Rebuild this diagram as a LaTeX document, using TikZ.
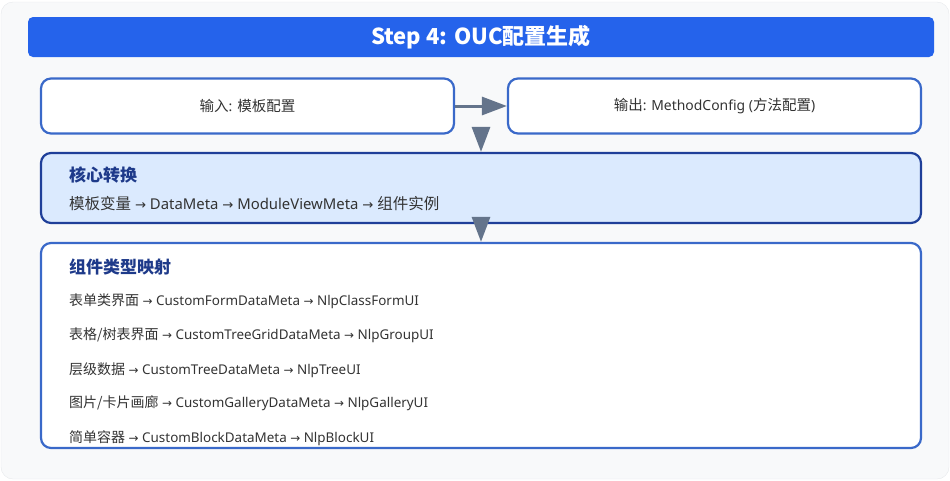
\documentclass[tikz,border=0pt]{standalone}
\usepackage{fontspec}
\setmainfont{Noto Sans}[Scale=0.96]
\newfontfamily\zh{Noto Sans CJK SC}
\newfontfamily\symfont{DejaVu Sans}[Scale=0.85]
\usetikzlibrary{arrows.meta}

\definecolor{panelbg}{HTML}{F8F9FA}
\definecolor{panelline}{HTML}{E6E8EB}
\definecolor{titleblue}{HTML}{2563EB}
\definecolor{boxline}{HTML}{3A69C9}
\definecolor{coreline}{HTML}{1F3F99}
\definecolor{corefill}{HTML}{DBEAFE}
\definecolor{headtext}{HTML}{1E3A8A}
\definecolor{bodytext}{HTML}{333333}
\definecolor{flowgray}{HTML}{64748B}

\newcommand{\toarrow}{{\symfont →}}

\tikzset{
  panel/.style={rounded corners=10pt, draw=boxline, line width=2.2pt, fill=white},
  headline/.style={anchor=west, inner sep=0pt, text=headtext, font=\zh\bfseries\fontsize{17}{20}\selectfont},
  bodyline/.style={anchor=west, inner sep=0pt, text=bodytext, font=\fontsize{14}{17}\selectfont},
  flow/.style={-{Triangle[length=25pt,width=18pt]}, draw=flowgray, line width=3pt}
}

\begin{document}
\begin{tikzpicture}[x=1pt, y=-1pt]
        \useasboundingbox (0,0) rectangle (950,480);
        \draw[panelline, fill=panelbg, rounded corners=12pt] (1,2) rectangle (949,479);

        % Nodes
        \node[fill=titleblue, rounded corners=5pt, minimum width=906pt, minimum height=40pt,
              text=white, font=\zh\bfseries\fontsize{22}{26}\selectfont] (title) at (481,37) {Step 4: OUC配置生成};
        \node[panel, minimum width=413pt, minimum height=55pt, text=bodytext,
              font=\fontsize{14.5}{17}\selectfont] (input) at (247.5,106) {{\zh 输入}: {\zh 模板配置}};
        \node[panel, minimum width=413pt, minimum height=55pt, text=bodytext,
              font=\fontsize{14.5}{17}\selectfont] (output) at (714.5,106) {{\zh 输出}: MethodConfig ({\zh 方法配置})};
        \node[panel, draw=coreline, fill=corefill, minimum width=880pt, minimum height=70pt] (core) at (481,188) {};
        \node[panel, minimum width=880pt, minimum height=205pt] (map) at (481,345.5) {};
        \coordinate (split) at (481,129);

        % Core texts
        \node[headline] (coretitle) at (69,175) {核心转换};
        \node[bodyline, font=\fontsize{15.5}{18}\selectfont] (coretext) at (69,204) {{\zh 模板变量} \toarrow{} DataMeta \toarrow{} ModuleViewMeta \toarrow{} {\zh 组件实例}};

        % Mapping texts
        \node[headline] (maptitle) at (69,267) {组件类型映射};
        \node[bodyline] (formline) at (69,301) {{\zh 表单类界面} \toarrow{} CustomFormDataMeta \toarrow{} NlpClassFormUI};
        \node[bodyline] (gridline) at (69,335) {{\zh 表格/树表界面} \toarrow{} CustomTreeGridDataMeta \toarrow{} NlpGroupUI};
        \node[bodyline] (treeline) at (69,370) {{\zh 层级数据} \toarrow{} CustomTreeDataMeta \toarrow{} NlpTreeUI};
        \node[bodyline] (galleryline) at (69,403) {{\zh 图片/卡片画廊} \toarrow{} CustomGalleryDataMeta \toarrow{} NlpGalleryUI};
        \node[bodyline] (blockline) at (69,438) {{\zh 简单容器} \toarrow{} CustomBlockDataMeta \toarrow{} NlpBlockUI};

        % Edges
        \draw[flow] (input) -- (output);
        \draw[flow] (split) -- (core.north);
        \draw[flow] ([yshift=4pt]core.south) -- (map.north);
\end{tikzpicture}
\end{document}
